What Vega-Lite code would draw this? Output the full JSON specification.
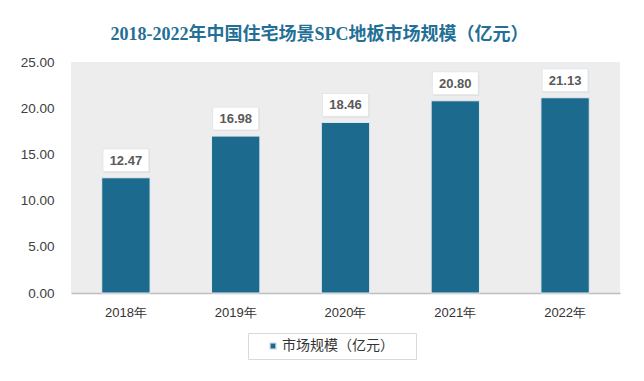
{
  "$schema": "https://vega.github.io/schema/vega-lite/v6.json",
  "autosize": {"type": "none"},
  "width": 549,
  "height": 231,
  "padding": {"left": 71, "top": 62, "right": 24, "bottom": 88},
  "background": "white",
  "config": {
    "view": {"fill": "#ededed", "stroke": null},
    "font": "Liberation Sans"
  },
  "title": {
    "text": "2018-2022年中国住宅场景SPC地板市场规模（亿元）",
    "font": "Liberation Serif, Noto Sans CJK SC",
    "fontSize": 18,
    "fontWeight": "bold",
    "color": "#236f96",
    "anchor": "middle",
    "dx": -26,
    "offset": 11
  },
  "data": {
    "values": [
      {"year": "2018年", "value": 12.47, "series": "市场规模（亿元）"},
      {"year": "2019年", "value": 16.98, "series": "市场规模（亿元）"},
      {"year": "2020年", "value": 18.46, "series": "市场规模（亿元）"},
      {"year": "2021年", "value": 20.80, "series": "市场规模（亿元）"},
      {"year": "2022年", "value": 21.13, "series": "市场规模（亿元）"}
    ]
  },
  "encoding": {
    "x": {
      "field": "year",
      "type": "nominal",
      "sort": null,
      "scale": {"paddingInner": 0.56, "paddingOuter": 0.28},
      "axis": {
        "title": null,
        "labelAngle": 0,
        "labelFontSize": 13,
        "labelColor": "#333333",
        "labelPadding": 13,
        "ticks": false,
        "domainColor": "#bfbfbf",
        "domainWidth": 1.5
      }
    },
    "y": {
      "field": "value",
      "type": "quantitative",
      "scale": {"domain": [0, 25]},
      "axis": {
        "title": null,
        "values": [0, 5, 10, 15, 20, 25],
        "format": ".2f",
        "labelFontSize": 13.5,
        "labelColor": "#404040",
        "labelPadding": 17,
        "ticks": false,
        "domain": false,
        "grid": false
      }
    }
  },
  "layer": [
    {
      "mark": {"type": "bar", "stroke": "#e3ebf0", "strokeWidth": 1},
      "encoding": {
        "color": {
          "field": "series",
          "type": "nominal",
          "scale": {"range": ["#1c6a8d"]},
          "legend": {
            "title": "\u3000",
            "titleOrient": "right",
            "titleFontSize": 14,
            "titlePadding": 16,
            "orient": "none",
            "legendX": 177,
            "legendY": 271,
            "direction": "horizontal",
            "padding": 6,
            "strokeColor": "#d9d9d9",
            "fillColor": "white",
            "symbolType": "square",
            "symbolSize": 40,
            "symbolOffset": 12,
            "labelOffset": 2,
            "labelFontSize": 14,
            "labelColor": "#333333",
            "labelFont": "Noto Sans CJK SC"
          }
        }
      }
    },
    {
      "mark": {
        "type": "point",
        "shape": "M-1,-0.5H1V0.5H-1Z",
        "size": 2116,
        "filled": true,
        "color": "#d4d4d4",
        "yOffset": -16.5,
        "xOffset": 1
      }
    },
    {
      "mark": {
        "type": "point",
        "shape": "M-1,-0.5H1V0.5H-1Z",
        "size": 2116,
        "filled": true,
        "fill": "white",
        "stroke": "#e0e6ea",
        "strokeWidth": 1,
        "opacity": 1,
        "yOffset": -17.5
      }
    },
    {
      "mark": {
        "type": "text",
        "fontSize": 13,
        "fontWeight": "bold",
        "color": "#595959",
        "yOffset": -17,
        "baseline": "middle"
      },
      "encoding": {"text": {"field": "value", "type": "quantitative", "format": ".2f"}}
    }
  ]
}
